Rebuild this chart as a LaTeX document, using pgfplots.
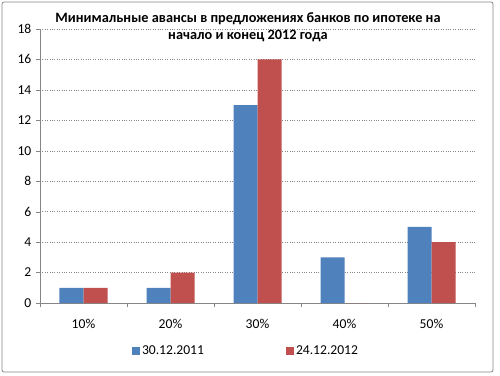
\documentclass[border=0pt]{standalone}
\usepackage{pgfplots}
\pgfplotsset{compat=1.18}
\usepackage{fontspec}
\setmainfont{Carlito}
\definecolor{sblue}{HTML}{4F81BD}
\definecolor{sred}{HTML}{C0504D}
\definecolor{axgray}{HTML}{868686}
\begin{document}
\fontsize{13.3}{16}\selectfont
\begin{tikzpicture}[x=1pt,y=1pt]
\path[fill=white] (-40,-72) rectangle (460,303);
\draw[axgray, line width=0.8pt, rounded corners=2pt] (-38,-69) rectangle (453,301);
\begin{axis}[
 at={(0,0)}, anchor=south west, scale only axis, width=435pt, height=274pt,
 ybar=0pt, bar width=24pt,
 xmin=-0.5, xmax=4.5, ymin=0, ymax=18,
 ytick={0,2,...,18},
 xtick={0,...,4}, xticklabels={10\%,20\%,30\%,40\%,50\%},
 minor xtick={-0.5,0.5,...,4.5},
 axis lines*=left,
 axis line style={axgray},
 tick align=outside,
 major x tick style={draw=none},
 minor x tick style={axgray},
 major y tick style={axgray},
 major tick length=4pt, minor tick length=4pt,
 ymajorgrids, grid style={axgray, dotted},
 /pgf/number format/assume math mode=true,
 tick label style={font=\fontsize{13.6}{16}\selectfont},
 xticklabel style={yshift=-8pt},
 legend columns=2,
 legend style={draw=none, at={(0.4736,-0.175)}, anchor=center, font=\fontsize{13.6}{16}\selectfont, /tikz/every even column/.append style={column sep=80pt}},
 legend image code/.code={\fill[#1] (0,-4pt) rectangle (8pt,4pt);},
]
\addplot[fill=sblue, draw=none] coordinates {(0,1)(1,1)(2,13)(3,3)(4,5)};
\addplot[fill=sred, draw=none] coordinates {(0,1)(1,2)(2,16)(3,0)(4,4)};
\legend{30.12.2011, 24.12.2012}
\end{axis}
\node[font=\bfseries\fontsize{14.3}{17}\selectfont, align=center] at (208,275.5) {Минимальные авансы в предложениях банков по ипотеке на\\начало и конец 2012 года};
\end{tikzpicture}
\end{document}
